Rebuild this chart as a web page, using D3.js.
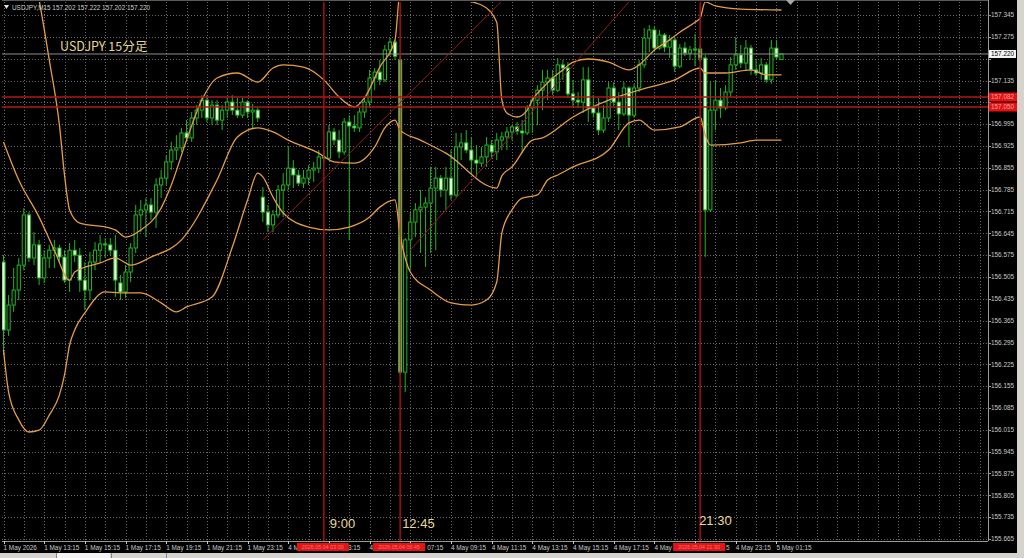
<!DOCTYPE html>
<html><head><meta charset="utf-8">
<script src="https://cdn.jsdelivr.net/npm/d3@7"></script>
<style>body{margin:0;background:#000;overflow:hidden}svg{display:block}</style>
</head><body><svg id="c" width="1024" height="558"></svg>
<script>
// ---- DATA (USDJPY M15) ----
const opens=[156.553,156.335,156.415,156.463,156.543,156.704,156.566,156.608,156.502,156.566,156.591,156.598,156.569,156.495,156.591,156.575,156.495,156.463,156.553,156.591,156.611,156.608,156.591,156.486,156.457,156.521,156.598,156.704,156.720,156.736,156.713,156.800,156.822,156.874,156.912,156.919,156.967,156.951,157.015,157.040,157.072,157.015,157.056,157.008,157.040,157.066,157.040,157.024,157.066,157.034,157.040,156.761,156.713,156.672,156.704,156.784,156.800,156.854,156.832,156.806,156.822,156.848,156.854,156.890,156.886,156.970,156.944,156.906,157.002,156.989,156.983,157.034,157.066,157.143,157.162,157.137,157.233,157.258,157.201,156.200,156.624,156.681,156.720,156.729,156.742,156.790,156.822,156.784,156.822,156.768,156.922,156.935,156.912,156.880,156.870,156.890,156.928,156.906,156.944,156.954,156.970,156.986,156.973,156.967,157.047,157.072,157.104,157.130,157.143,157.104,157.185,157.175,157.092,157.072,157.066,157.137,157.047,157.031,156.976,157.015,157.111,157.066,157.028,157.111,157.024,157.111,157.185,157.271,157.297,157.239,157.281,157.242,157.265,157.181,157.239,157.223,157.233,157.236,157.207,156.720,157.040,157.072,157.047,157.098,157.185,157.217,157.191,157.239,157.169,157.159,157.185,157.137,157.239,157.202];
const highs=[156.575,156.447,156.534,156.566,156.726,156.713,156.649,156.624,156.591,156.608,156.624,156.608,156.591,156.614,156.624,156.598,156.553,156.585,156.617,156.640,156.630,156.630,156.640,156.511,156.543,156.614,156.736,156.752,156.758,156.758,156.822,156.848,156.896,156.938,156.960,156.983,157.008,157.034,157.056,157.088,157.088,157.072,157.072,157.056,157.079,157.088,157.079,157.079,157.072,157.060,157.047,156.793,156.736,156.720,156.800,156.838,156.922,156.880,156.848,156.848,156.864,156.874,156.912,156.912,156.992,156.983,156.976,157.015,157.024,157.024,157.047,157.079,157.169,157.175,157.201,157.249,157.271,157.265,157.213,156.630,156.713,156.742,156.784,156.761,156.858,156.858,156.832,156.858,156.912,156.967,156.967,156.976,156.954,156.928,156.922,156.954,156.944,156.967,156.970,156.986,156.992,157.002,157.008,157.056,157.082,157.120,157.169,157.169,157.169,157.207,157.201,157.194,157.137,157.098,157.178,157.178,157.088,157.079,157.056,157.130,157.130,157.098,157.130,157.117,157.124,157.201,157.303,157.313,157.310,157.297,157.287,157.281,157.271,157.252,157.258,157.246,157.284,157.249,157.217,157.130,157.137,157.111,157.120,157.210,157.274,157.249,157.265,157.249,157.201,157.207,157.194,157.265,157.265,157.222];
const lows=[156.255,156.316,156.393,156.431,156.527,156.553,156.543,156.479,156.486,156.534,156.534,156.553,156.486,156.457,156.553,156.457,156.399,156.431,156.527,156.553,156.566,156.575,156.441,156.431,156.438,156.489,156.582,156.649,156.633,156.688,156.662,156.758,156.800,156.848,156.880,156.906,156.938,156.938,156.992,157.015,157.002,156.992,156.992,156.976,157.015,157.024,157.015,157.015,157.015,156.983,157.002,156.681,156.649,156.649,156.694,156.697,156.784,156.790,156.797,156.790,156.800,156.810,156.838,156.874,156.880,156.928,156.886,156.896,156.624,156.970,156.970,157.015,157.050,157.104,157.120,157.130,157.213,157.201,156.191,156.136,156.527,156.633,156.582,156.537,156.582,156.591,156.761,156.720,156.752,156.761,156.880,156.902,156.838,156.826,156.858,156.858,156.886,156.880,156.912,156.912,156.944,156.960,156.902,156.960,156.967,156.992,157.040,157.072,157.088,157.098,157.137,157.079,157.050,157.047,157.031,157.002,157.015,156.960,156.967,157.002,157.053,156.976,157.021,156.922,157.015,157.098,157.175,157.226,157.226,157.233,157.226,157.207,157.162,157.175,157.213,157.201,157.181,157.194,156.569,156.713,156.976,157.015,157.040,157.082,157.169,157.175,157.169,157.153,157.149,157.137,157.127,157.124,157.201,157.202];
const closes=[156.335,156.415,156.463,156.543,156.704,156.566,156.608,156.502,156.566,156.591,156.598,156.569,156.495,156.591,156.575,156.495,156.463,156.553,156.591,156.611,156.608,156.591,156.495,156.457,156.521,156.598,156.704,156.720,156.736,156.713,156.800,156.822,156.874,156.912,156.919,156.967,156.951,157.015,157.040,157.072,157.015,157.056,157.008,157.040,157.066,157.040,157.024,157.066,157.034,157.040,157.015,156.713,156.672,156.704,156.784,156.800,156.854,156.832,156.806,156.822,156.848,156.854,156.890,156.886,156.970,156.944,156.906,157.002,156.989,156.983,157.034,157.066,157.143,157.162,157.137,157.233,157.258,157.213,156.200,156.624,156.681,156.720,156.729,156.742,156.790,156.822,156.784,156.822,156.768,156.922,156.935,156.912,156.880,156.870,156.890,156.928,156.906,156.944,156.954,156.970,156.986,156.973,156.967,157.047,157.072,157.104,157.130,157.143,157.104,157.185,157.175,157.092,157.072,157.066,157.137,157.047,157.031,156.976,157.015,157.111,157.066,157.028,157.111,157.024,157.111,157.185,157.271,157.297,157.239,157.281,157.242,157.265,157.181,157.239,157.223,157.233,157.236,157.207,156.720,157.040,157.072,157.047,157.098,157.185,157.217,157.191,157.239,157.169,157.159,157.185,157.137,157.239,157.210,157.220];

// Bollinger band traces (bar index, price)
const upperIdx=[0,3,7,9,11,12,13,15,21,22,24,27,31,33,36,39,42,46,50,53,55,59,63,66,69,71,74,77,78,82,86,90,94,97,98,99,101,103,104,106,108,110,112,115,119,123,125,128,131,133,136,137,138,140,145,153];
const upperVal=[157.874,157.649,157.393,157.201,156.992,156.832,156.720,156.678,156.662,156.656,156.633,156.656,156.726,156.800,156.944,157.072,157.143,157.159,157.130,157.175,157.185,157.178,157.137,157.082,157.050,157.079,157.178,157.265,157.419,157.409,157.399,157.393,157.377,157.322,157.072,157.031,157.018,157.040,157.072,157.111,157.143,157.169,157.194,157.204,157.194,157.169,157.185,157.233,157.265,157.290,157.322,157.335,157.387,157.374,157.364,157.361];
const middleIdx=[0,3,7,10,13,14,19,22,24,25,29,35,42,46,50,53,56,62,65,69,73,75,77,78,82,87,97,98,100,104,106,112,119,125,132,137,138,142,147,150,153];
const middleVal=[156.938,156.816,156.697,156.591,156.495,156.521,156.550,156.566,156.550,156.543,156.569,156.624,156.816,156.954,156.983,156.970,156.944,156.902,156.874,156.870,156.922,156.983,157.008,156.976,156.944,156.902,156.790,156.829,156.858,156.944,156.951,157.018,157.072,157.104,157.137,157.175,157.159,157.159,157.169,157.153,157.153];
const lowerIdx=[0,1,3,5,7,9,11,12,13,14,16,20,23,27,31,34,36,41,45,48,50,51,53,55,60,64,68,72,74,77,78,79,80,84,88,92,95,97,98,100,102,105,107,109,112,119,123,125,128,133,137,138,139,145,148,153];
const lowerVal=[156.271,156.136,156.047,156.008,156.014,156.062,156.127,156.191,156.287,156.335,156.390,156.457,156.454,156.454,156.422,156.393,156.409,156.441,156.601,156.752,156.838,156.826,156.761,156.710,156.665,156.656,156.665,156.697,156.729,156.752,156.640,156.566,156.521,156.463,156.422,156.415,156.431,156.489,156.646,156.720,156.758,156.768,156.816,156.832,156.858,156.912,156.999,157.008,156.976,156.986,157.018,156.960,156.928,156.935,156.944,156.944];

const priceTicks=["157.345","157.275","157.205","157.135","157.065","156.995","156.925","156.855","156.785","156.715","156.645","156.575","156.505","156.435","156.365","156.295","156.225","156.155","156.085","156.015","155.945","155.875","155.805","155.735","155.665"];
const timeTickIdx=[0,8,16,24,32,40,48,56,64,72,80,88,96,104,112,120,128,136,144,152];
const timeTickLabels=["1 May 2026","1 May 13:15","1 May 15:15","1 May 17:15","1 May 19:15","1 May 21:15","1 May 23:15","4 May 01:15","4 May 03:15","4 May 05:15","4 May 07:15","4 May 09:15","4 May 11:15","4 May 13:15","4 May 15:15","4 May 17:15","4 May 19:15","4 May 21:15","4 May 23:15","5 May 01:15"];
// part of each time label left visible beside the red line-time boxes
const timeTickVisible=["1 May 2026","1 May 13:15","1 May 15:15","1 May 17:15","1 May 19:15","1 May 21:15","1 May 23:15","4 M","3:15","4","07:15","4 May 09:15","4 May 11:15","4 May 13:15","4 May 15:15","4 May 17:15","4 May 1","5","4 May 23:15","5 May 01:15"];
const timeTickShift=[0,0,0,0,0,0,0,0,19,0,17,0,0,0,0,0,0,31,0,0];
const eventIdx=[63,78,137];
const eventLabels=["9:00","12:45","21:30"];
const eventStamps=["2026.05.04 03:00","2026.05.04 06:45","2026.05.04 21:30"];
const hLinePrices=[157.082,157.050];
const trendA=[[51,156.624],[98,157.390]];
const trendB=[[80,156.591],[123,157.387]];
const lastPrice=157.220;
const header="USDJPY,M15  157.202 157.222 157.202 157.220";
const title="USDJPY 15分足";

// ---- DRAW ----
const W=1024,H=558;
const P={l:2,r:988,t:2,b:541};
const svg=d3.select('#c');
const y=d3.scaleLinear().domain([155.665,157.345]).range([539,15]);
const x=d3.scaleLinear().domain([0,153]).range([3.5,781.5]);
const font="'Liberation Sans','DejaVu Sans',sans-serif";
const fs='6.4px';

svg.append('rect').attr('width',W).attr('height',H).attr('fill','#000');
const defs=svg.append('defs');
defs.append('clipPath').attr('id','clip').append('rect').attr('x',P.l).attr('y',P.t).attr('width',P.r-P.l).attr('height',P.b-P.t);

// grid
const grid=svg.append('g').attr('clip-path','url(#clip)');
grid.selectAll('line.h').data(priceTicks).join('line')
  .attr('x1',P.l).attr('x2',P.r)
  .attr('y1',d=>Math.round(y(+d))+0.5).attr('y2',d=>Math.round(y(+d))+0.5)
  .attr('stroke','#6a6a6a').attr('stroke-width',1).attr('stroke-dasharray','1,2');
const vGrid=d3.range(0,193,4);
grid.selectAll('line.v').data(vGrid).join('line')
  .attr('x1',d=>Math.round(x(d))+0.5).attr('x2',d=>Math.round(x(d))+0.5)
  .attr('y1',P.t).attr('y2',P.b)
  .attr('stroke','#6a6a6a').attr('stroke-width',1).attr('stroke-dasharray','1,2');

const plot=svg.append('g').attr('clip-path','url(#clip)');

// candles
const candles=opens.map((o,i)=>({i,o,h:highs[i],l:lows[i],c:closes[i]}));
const green='#22b422';
plot.selectAll('line.wick').data(candles).join('line')
  .attr('x1',d=>x(d.i)).attr('x2',d=>x(d.i))
  .attr('y1',d=>y(d.h)).attr('y2',d=>y(d.l))
  .attr('stroke',green).attr('stroke-width',1);
plot.selectAll('rect.body').data(candles).join('rect')
  .attr('x',d=>x(d.i)-1.6).attr('width',3.2)
  .attr('y',d=>Math.min(y(d.o),y(d.c)))
  .attr('height',d=>Math.max(0.8,Math.abs(y(d.o)-y(d.c))))
  .attr('fill',d=>d.c>=d.o?'#000':'#e6f8dc')
  .attr('stroke',green).attr('stroke-width',1);

// bands
const line=d3.line().x(d=>x(d[0])).y(d=>y(d[1])).curve(d3.curveMonotoneX);
[[upperIdx,upperVal],[middleIdx,middleVal],[lowerIdx,lowerVal]].forEach(([ix,vv])=>{
  plot.append('path').attr('d',line(ix.map((v,k)=>[v,vv[k]])))
    .attr('fill','none').attr('stroke','#e39c48').attr('stroke-width',1.3);
});

// current price line
plot.append('line').attr('x1',P.l).attr('x2',P.r)
  .attr('y1',y(lastPrice)).attr('y2',y(lastPrice))
  .attr('stroke','#8c8c8c').attr('stroke-width',1);

// trend lines
[trendA,trendB].forEach(t=>{
  plot.append('line').attr('x1',x(t[0][0])).attr('y1',y(t[0][1]))
    .attr('x2',x(t[1][0])).attr('y2',y(t[1][1]))
    .attr('stroke','#8e1c1c').attr('stroke-width',1);
});
// horizontal red lines
plot.selectAll('line.hr').data(hLinePrices).join('line')
  .attr('x1',P.l).attr('x2',P.r).attr('y1',d=>y(d)).attr('y2',d=>y(d))
  .attr('stroke','#b01818').attr('stroke-width',1.4);
// vertical red lines
plot.selectAll('line.vr').data(eventIdx).join('line')
  .attr('x1',d=>x(d)).attr('x2',d=>x(d)).attr('y1',P.t).attr('y2',P.b)
  .attr('stroke','#b31010').attr('stroke-width',1.4);

// frame
svg.append('line').attr('x1',P.r+0.5).attr('x2',P.r+0.5).attr('y1',0).attr('y2',P.b)
  .attr('stroke','#9a9a9a');
svg.append('line').attr('x1',P.l).attr('x2',P.r).attr('y1',P.b+0.5).attr('y2',P.b+0.5)
  .attr('stroke','#9a9a9a');
svg.append('line').attr('x1',P.l).attr('x2',P.r).attr('y1',0.5).attr('y2',0.5)
  .attr('stroke','#5a5a5a');

// right axis labels (labels sitting under a price box stay hidden, as on the chart)
const boxes=[lastPrice,...hLinePrices].map(p=>y(p));
const ax=svg.append('g');
ax.selectAll('line.t').data(priceTicks).join('line')
  .attr('x1',P.r).attr('x2',P.r+3).attr('y1',d=>Math.round(y(+d))+0.5).attr('y2',d=>Math.round(y(+d))+0.5)
  .attr('stroke','#9a9a9a');
ax.selectAll('text.p').data(priceTicks.filter(d=>boxes.every(b=>Math.abs(b-y(+d))>7))).join('text')
  .attr('x',P.r+3).attr('y',d=>y(+d)+2.3).text(d=>d)
  .attr('fill','#c8c8c8').attr('font-family',font).attr('font-size',fs);

// price boxes
hLinePrices.forEach(p=>{
  ax.append('rect').attr('x',P.r+1).attr('y',y(p)-4.5).attr('width',28).attr('height',9).attr('fill','#e41212');
  ax.append('text').attr('x',P.r+3).attr('y',y(p)+2.3).text(p.toFixed(3))
    .attr('fill','#f3a0a0').attr('font-family',font).attr('font-size',fs);
});
ax.append('rect').attr('x',P.r+1).attr('y',y(lastPrice)-4).attr('width',27).attr('height',8).attr('fill','#f4f4f4');
ax.append('text').attr('x',P.r+3).attr('y',y(lastPrice)+2.3).text(lastPrice.toFixed(3))
  .attr('fill','#000').attr('font-family',font).attr('font-size',fs);

// time axis
ax.selectAll('line.tt').data(timeTickIdx).join('line')
  .attr('x1',d=>Math.round(x(d))+0.5).attr('x2',d=>Math.round(x(d))+0.5).attr('y1',P.b).attr('y2',P.b+3)
  .attr('stroke','#c8c8c8');
ax.selectAll('text.tl').data(timeTickIdx).join('text')
  .attr('x',(d,k)=>x(d)+timeTickShift[k]).attr('y',550).text((d,k)=>timeTickVisible[k])
  .attr('fill','#c8c8c8').attr('font-family',font).attr('font-size',fs);
eventIdx.forEach((e,k)=>{
  ax.append('rect').attr('x',x(e)-27).attr('y',543).attr('width',52).attr('height',8).attr('fill','#e41414');
  ax.append('text').attr('x',x(e)-1).attr('y',549.3).attr('text-anchor','middle').text(eventStamps[k])
    .attr('fill','#f07878').attr('font-family',font).attr('font-size','5.4px');
});

// event annotations
const evY=[528,528,525];
const evDx=[6,2,-1];
eventIdx.forEach((e,k)=>{
  svg.append('text').attr('x',x(e)+evDx[k]).attr('y',evY[k]).text(eventLabels[k])
    .attr('fill','#e6da98').attr('font-family',font).attr('font-size','13px');
});

// header
svg.append('path').attr('d','M4,5 L9,5 L6.5,9 Z').attr('fill','#e0e0e0');
svg.append('text').attr('x',12).attr('y',10).text(header)
  .attr('fill','#d0d0d0').attr('font-family',font).attr('font-size',fs);
svg.append('text').attr('x',60).attr('y',51).text(title)
  .attr('fill','#e2d78e').attr('font-family',"'Noto Sans CJK JP','Noto Sans',sans-serif").attr('font-size','12.5px');

// chart shift marker
svg.append('path').attr('d','M786,0 L795,0 L790.5,5 Z').attr('fill','#a8a8a8');

// window chrome
svg.append('rect').attr('x',0).attr('y',553).attr('width',W).attr('height',5).attr('fill','#d6d3cc');
svg.append('rect').attr('x',57).attr('y',553).attr('width',53).attr('height',5).attr('fill','#f4f4f4');
[56,111,166].forEach(v=>svg.append('line').attr('x1',v+0.5).attr('x2',v+0.5).attr('y1',553).attr('y2',558).attr('stroke','#8a8a8a'));
svg.append('rect').attr('x',1017).attr('y',0).attr('width',7).attr('height',H).attr('fill','#d6d3cc');
</script></body></html>
